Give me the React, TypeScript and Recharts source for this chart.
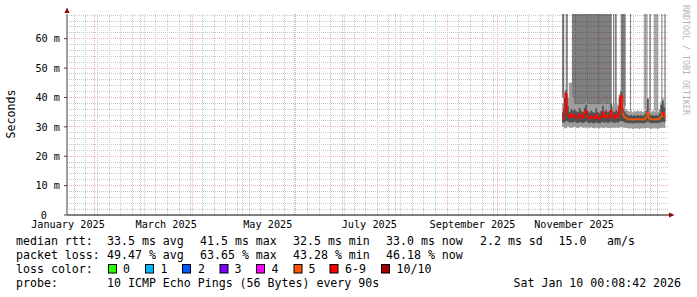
import { ComposedChart, Area, Line, XAxis, YAxis, CartesianGrid, ReferenceArea } from "recharts";

const WIDTH = 697;
const HEIGHT = 297;
const FONT = "DejaVu Sans Mono";
const Y_MAX = 68.4;
// x is days since 2025-01-01
const X_MIN = 14.6;
const X_MAX = 375.6;

const monthStarts = [31, 59, 90, 120, 151, 181, 212, 243, 273, 304, 334, 365];
const labelDays = [15.2, 74.2, 135.2, 196.2, 258.2, 319.2];
const labelNames = ["January 2025", "March 2025", "May 2025", "July 2025", "September 2025", "November 2025"];
const yTicks = [0, 10, 20, 30, 40, 50, 60];

// one sample per day, starting 2025-11-09
const FIRST_DAY = 312;
const median = [
  32.8, 36.0, 41.4, 34.0, 33.2, 34.2, 33.5, 34.0, 33.3, 33.0,
  34.3, 33.6, 33.0, 34.6, 35.4, 33.4, 32.8, 33.6, 33.2, 32.9,
  34.0, 33.0, 32.7, 33.5, 35.0, 33.4, 33.9, 33.1, 33.6, 35.5,
  33.4, 33.0, 34.0, 33.3, 36.5, 40.5, 34.5, 33.4, 33.0, 32.6,
  32.5, 32.6, 32.4, 32.6, 32.5, 32.7, 32.5, 32.6, 32.4, 32.6,
  33.2, 35.0, 32.8, 32.5, 32.6, 32.5, 32.7, 32.5, 32.8, 33.5,
  34.8, 33.6, 32.8,
];
const lostPings = [
  6, 6, 6, 6, 6, 5, 6, 6, 6, 6,
  5, 6, 6, 5, 6, 6, 6, 6, 6, 6,
  5, 6, 6, 6, 5, 6, 5, 6, 6, 5,
  6, 6, 5, 6, 5, 6, 5, 5, 5, 5,
  5, 5, 5, 5, 5, 5, 5, 5, 5, 5,
  5, 5, 5, 5, 5, 5, 5, 5, 5, 5,
  6, 5, 5,
];
const smokeLow = [
  30.0, 29.5, 29.5, 30.0, 29.8, 29.6, 29.8, 30.0, 29.7, 29.6,
  29.8, 30.0, 29.7, 29.8, 29.5, 29.8, 29.6, 29.9, 29.6, 29.5,
  29.8, 29.6, 29.4, 29.8, 29.6, 29.7, 29.8, 29.6, 29.7, 29.6,
  29.8, 29.6, 29.8, 29.6, 29.8, 29.9, 29.8, 29.7, 29.6, 29.5,
  29.4, 29.5, 29.3, 29.5, 29.4, 29.5, 29.3, 29.5, 29.4, 29.5,
  29.6, 29.7, 29.5, 29.3, 29.5, 29.4, 29.5, 29.3, 29.5, 29.6,
  29.7, 29.6, 29.8,
];
const coreLow = [
  31.5, 31.5, 32.0, 31.8, 31.5, 31.6, 31.5, 31.8, 31.4, 31.3,
  31.6, 31.5, 31.3, 31.6, 31.8, 31.5, 31.2, 31.5, 31.3, 31.2,
  31.6, 31.3, 31.1, 31.5, 31.7, 31.4, 31.6, 31.3, 31.5, 31.8,
  31.5, 31.3, 31.6, 31.4, 31.8, 32.0, 31.8, 31.5, 31.4, 31.3,
  31.2, 31.3, 31.1, 31.3, 31.2, 31.4, 31.2, 31.3, 31.1, 31.3,
  31.5, 31.8, 31.4, 31.2, 31.3, 31.2, 31.4, 31.2, 31.4, 31.6,
  31.8, 31.5, 31.4,
];
const coreHigh = [
  35.0, 40.0, 42.5, 37.0, 35.0, 36.0, 35.5, 36.0, 35.2, 35.0,
  36.4, 35.4, 35.0, 36.5, 37.5, 35.2, 34.8, 35.6, 35.0, 34.8,
  36.2, 35.0, 34.6, 35.4, 37.2, 35.2, 35.8, 35.0, 35.5, 38.0,
  35.2, 35.0, 35.8, 35.2, 40.0, 42.0, 36.5, 35.2, 34.5, 34.0,
  33.8, 34.0, 33.7, 34.0, 33.8, 34.0, 33.8, 34.0, 33.7, 34.2,
  35.5, 39.5, 34.5, 33.8, 34.0, 33.8, 34.0, 33.8, 34.5, 37.5,
  39.0, 36.5, 35.0,
];
const smokeHigh = [
  38.0, 42.0, 44.0, 40.0, 45.0, 45.0, 40.0, 38.0, 37.5, 37.5,
  37.5, 37.5, 37.5, 37.5, 38.5, 37.5, 37.5, 37.5, 37.5, 37.5,
  37.5, 37.5, 37.5, 37.5, 38.0, 37.5, 37.5, 37.5, 37.5, 39.0,
  37.0, 38.0, 38.5, 37.5, 41.0, 43.0, 38.0, 37.0, 36.0, 35.5,
  35.2, 35.5, 35.0, 35.4, 35.2, 35.6, 35.2, 35.4, 35.0, 35.6,
  36.5, 40.0, 36.0, 35.2, 35.5, 35.2, 35.6, 35.2, 36.0, 38.5,
  40.0, 38.0, 36.5,
];

// stretches where the slowest pings run off the top of the graph: [from day, to day, lower edge]
const tallDense: [number, number, number][] = [
  [311.95, 313.3, 40],
  [314.2, 315.4, 42],
  [317.9, 341.8, 37.5],
  [342.6, 343.4, 37],
  [343.8, 344.8, 37],
  [347.2, 350.2, 37],
  [352.8, 353.4, 35.5],
];
const tallSparse: [number, number, number][] = [
  [361.0, 363.4, 36],
  [364.2, 365.4, 35.5],
  [367.0, 369.8, 35.5],
  [371.4, 372.4, 36],
  [373.2, 374.4, 36],
];

const lossLabels = ["0", "1", "2", "3", "4", "5", "6-9", "10/10"];
const lossColors = ["#26ff00", "#00b8ff", "#0059ff", "#7e00ff", "#ff00ff", "#ff5500", "#ff0000", "#a10000"];

function lossBucket(lost: number) {
  if (lost <= 5) return lost;
  if (lost < 10) return 6;
  return 7;
}

const data = median.map((m, i) => {
  const row: Record<string, any> = {
    day: FIRST_DAY + i,
    smoke: [smokeLow[i], smokeHigh[i]],
    core: [coreLow[i], coreHigh[i]],
  };
  lossColors.forEach((_, k) => {
    const here = lossBucket(lostPings[i]) === k;
    const prev = i > 0 && lossBucket(lostPings[i - 1]) === k;
    row["m" + k] = here || prev ? m : null;
  });
  return row;
});

const minorH: number[] = [];
for (let v = 2; v <= 68; v += 2) if (v % 10 !== 0) minorH.push(v);
const majorH = [10, 20, 30, 40, 50, 60];
const weekly: number[] = [];
for (let d = 19; d < X_MAX; d += 7) if (!monthStarts.includes(d)) weekly.push(d);

function YTick({ x, y, payload }: any) {
  const v = payload.value;
  return (
    <text x={v === 0 ? x - 13 : x} y={y} dy="0.36em" textAnchor="end" fontSize={10.2} fontFamily={FONT} fill="#000">
      {v === 0 ? "0" : `${v} m`}
    </text>
  );
}

const legendRows = [
  { y: 244.7, parts: [[16, "median rtt:"], [107, "33.5 ms avg"], [200, "41.5 ms max"], [293, "32.5 ms min"], [386, "33.0 ms now"], [480, "2.2 ms sd"], [558.5, "15.0"], [607, "am/s"]] },
  { y: 258.8, parts: [[16, "packet loss:"], [107, "49.47 % avg"], [200, "63.65 % max"], [293, "43.28 % min"], [386, "46.18 % now"]] },
  { y: 272.9, parts: [[16, "loss color:"]] },
  { y: 287, parts: [[16, "probe:"], [107, "10 ICMP Echo Pings (56 Bytes) every 90s"], [513.5, "Sat Jan 10 00:08:42 2026"]] },
];
const boxX = [108.5, 145.5, 182.5, 220, 256.5, 294, 330, 381.5];
const boxLabelX = [123, 160.5, 198, 234.5, 271.5, 308.5, 345, 396.5];

export default function App() {
  return (
    <div style={{ position: "relative", width: WIDTH, height: HEIGHT, background: "#fff" }}>
      <style>{"body{margin:0}"}</style>
      <ComposedChart width={WIDTH} height={HEIGHT} data={data} margin={{ top: 14, right: 29, bottom: 62, left: 0 }}>
        <CartesianGrid
          horizontalValues={minorH}
          verticalValues={weekly}
          stroke="#c8c8c8"
          strokeDasharray="1 1"
          shapeRendering="crispEdges"
        />
        <CartesianGrid
          horizontalValues={majorH}
          verticalValues={monthStarts}
          stroke="#f4b0b0"
          strokeDasharray="1 1"
          shapeRendering="crispEdges"
        />
        <XAxis
          xAxisId="marks"
          dataKey="day"
          type="number"
          domain={[X_MIN, X_MAX]}
          allowDataOverflow
          ticks={monthStarts}
          interval={0}
          tickFormatter={() => ""}
          tickSize={3}
          tickLine={{ stroke: "#000" }}
          axisLine={false}
          height={0}
        />
        <XAxis
          dataKey="day"
          type="number"
          domain={[X_MIN, X_MAX]}
          allowDataOverflow
          ticks={labelDays}
          interval={0}
          tickFormatter={(d: number) => labelNames[labelDays.indexOf(d)] ?? ""}
          tick={{ fontSize: 10.2, fontFamily: FONT, fill: "#000" }}
          tickLine={false}
          tickSize={2}
          tickMargin={4}
          axisLine={{ stroke: "#000" }}
          height={20}
        />
        <YAxis
          type="number"
          domain={[0, Y_MAX]}
          allowDataOverflow
          ticks={yTicks}
          interval={0}
          width={67}
          tick={<YTick />}
          tickSize={3}
          tickMargin={4}
          tickLine={{ stroke: "#444" }}
          axisLine={{ stroke: "#444" }}
        />
        {tallDense.map(([a, b, lo], i) => (
          <ReferenceArea key={"d" + i} x1={a} x2={b} y1={lo} y2={Y_MAX} fill="#000" fillOpacity={0.5} stroke="none" ifOverflow="hidden" />
        ))}
        {tallSparse.map(([a, b, lo], i) => (
          <ReferenceArea key={"s" + i} x1={a} x2={b} y1={lo} y2={Y_MAX} fill="#000" fillOpacity={0.33} stroke="none" ifOverflow="hidden" />
        ))}
        <Area dataKey="smoke" type="stepAfter" stroke="none" fill="#9c9c9c" fillOpacity={1} isAnimationActive={false} />
        <Area dataKey="core" type="stepAfter" stroke="none" fill="#505050" fillOpacity={1} isAnimationActive={false} />
        {lossColors.map((c, k) => (
          <Line
            key={k}
            dataKey={"m" + k}
            type="stepAfter"
            stroke={c}
            strokeWidth={1.3}
            dot={false}
            activeDot={false}
            connectNulls={false}
            isAnimationActive={false}
          />
        ))}
      </ComposedChart>
      <svg width={WIDTH} height={HEIGHT} style={{ position: "absolute", left: 0, top: 0, pointerEvents: "none" }}>
        <polygon points="64.5,13 69.5,13 67,7.5" fill="#900000" />
        <line x1={668} y1={215} x2={670} y2={215} stroke="#000" />
        <polygon points="669,212.5 669,217.5 674.5,215" fill="#900000" />
        <text x={11} y={114} transform="rotate(-90 11 114)" dy="0.36em" textAnchor="middle" fontSize={11.6} fontFamily={FONT} fill="#000">
          Seconds
        </text>
        <text x={686} y={5} transform="rotate(90 686 5)" dy="0.36em" fontSize={8.3} fontFamily={FONT} fill="#b4b4b4">
          RRDTOOL / TOBI OETIKER
        </text>
        {legendRows.map((row, r) =>
          row.parts.map(([x, s], j) => (
            <text key={r + "-" + j} x={x as number} y={row.y} fontSize={11.6} fontFamily={FONT} fill="#000">
              {s as string}
            </text>
          ))
        )}
        {lossColors.map((c, k) => (
          <g key={k}>
            <rect x={boxX[k]} y={264.5} width={8} height={8.5} fill={c} stroke="#000" strokeWidth={1} />
            <text x={boxLabelX[k]} y={272.9} fontSize={11.6} fontFamily={FONT} fill="#000">
              {lossLabels[k]}
            </text>
          </g>
        ))}
      </svg>
    </div>
  );
}
